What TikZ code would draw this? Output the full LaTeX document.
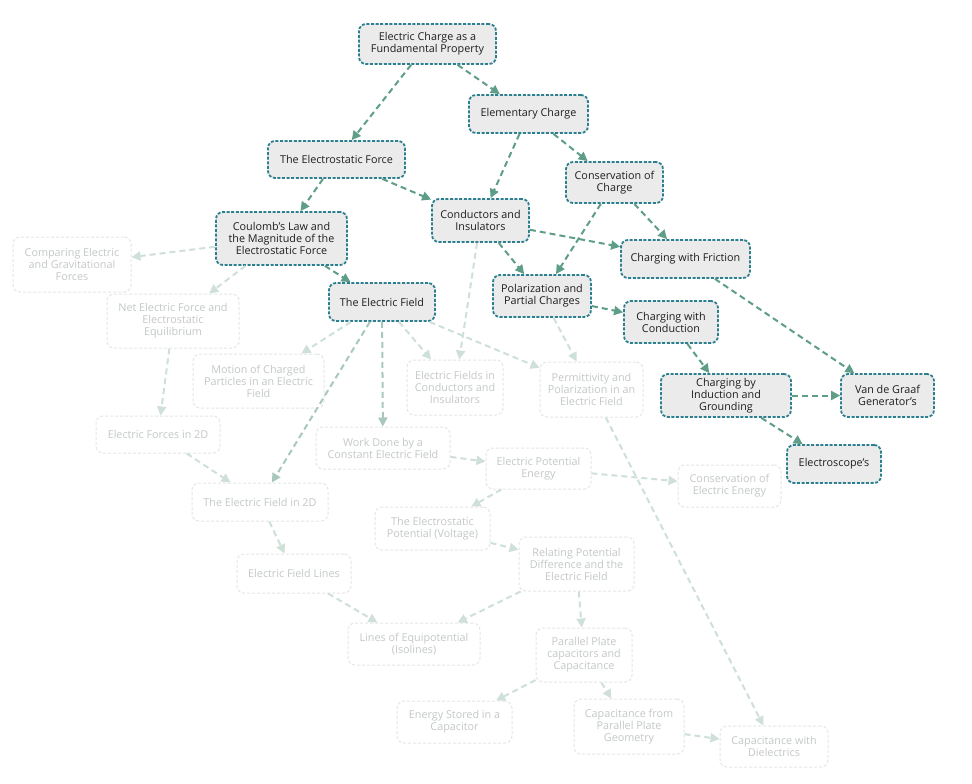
\documentclass[tikz,border=0pt]{standalone}
\usepackage{fontspec}
\setmainfont{Open Sans}
\usetikzlibrary{arrows.meta}
\definecolor{actborder}{HTML}{2C7F8E}
\definecolor{actfill}{HTML}{EBEBEB}
\definecolor{actarrow}{HTML}{5E9E88}
\definecolor{midarrow}{HTML}{A8C8BB}
\definecolor{fadearrow}{HTML}{CFE0D8}
\definecolor{fadeborder}{HTML}{E6E6E6}
\definecolor{fadetext}{HTML}{C4C8C8}
\definecolor{acttext}{HTML}{1E1E1E}
\tikzset{
  base/.style={rounded corners=7pt, align=center, inner sep=0pt, font=\fontsize{10.8}{12}\selectfont},
  act/.style={base, draw=actborder, fill=actfill, line width=1.8pt, dash pattern=on 3pt off 1.6pt, text=acttext},
  fade/.style={base, draw=fadeborder, fill=white, line width=1pt, dash pattern=on 3pt off 2pt, text=fadetext},
  aedge/.style={draw=actarrow, line width=2pt, dash pattern=on 6pt off 4pt, -{Triangle[length=9pt,width=9pt]}, shorten >=0pt},
  medge/.style={draw=midarrow, line width=2pt, dash pattern=on 6pt off 4pt, -{Triangle[length=9pt,width=9pt]}},
  fedge/.style={draw=fadearrow, line width=2pt, dash pattern=on 6pt off 4pt, -{Triangle[length=9pt,width=9pt]}},
}
\begin{document}
\begin{tikzpicture}[x=1pt,y=-1pt]
\useasboundingbox[fill=white] (0,0) rectangle (972,784);
% active nodes
\node[act, minimum width=137pt, minimum height=40pt] (ecfp) at (427.5,44) {Electric Charge as a\\Fundamental Property};
\node[act, minimum width=119pt, minimum height=38pt] (elem) at (528.5,114) {Elementary Charge};
\node[act, minimum width=137pt, minimum height=37pt] (esf) at (336.5,159.5) {The Electrostatic Force};
\node[act, minimum width=131pt, minimum height=53pt] (coul) at (281.5,238.5) {Coulomb's Law and\\the Magnitude of the\\Electrostatic Force};
\node[act, minimum width=106pt, minimum height=38pt] (ef) at (382,302) {The Electric Field};
\node[act, minimum width=97pt, minimum height=41pt] (cons) at (614.5,182.5) {Conservation of\\Charge};
\node[act, minimum width=97pt, minimum height=43pt] (cond) at (480.5,220.5) {Conductors and\\Insulators};
\node[act, minimum width=129pt, minimum height=38pt] (fric) at (685.5,259) {Charging with Friction};
\node[act, minimum width=98pt, minimum height=42pt] (pol) at (542,296) {Polarization and\\Partial Charges};
\node[act, minimum width=94pt, minimum height=42pt] (ccond) at (671,322) {Charging with\\Conduction};
\node[act, minimum width=130pt, minimum height=43pt] (ind) at (726,395.5) {Charging by\\Induction and\\Grounding};
\node[act, minimum width=93pt, minimum height=43pt] (vdg) at (887.5,395.5) {Van de Graaf\\Generator's};
\node[act, minimum width=94pt, minimum height=38pt] (escope) at (834,464) {Electroscope's};
% faded nodes
\node[fade, minimum width=118pt, minimum height=55pt] (comp) at (72,264.5) {Comparing Electric\\and Gravitational\\Forces};
\node[fade, minimum width=132pt, minimum height=54pt] (net) at (173,321) {Net Electric Force and\\Electrostatic\\Equilibrium};
\node[fade, minimum width=131pt, minimum height=54pt] (motion) at (258.5,381) {Motion of Charged\\Particles in an Electric\\Field};
\node[fade, minimum width=96pt, minimum height=55pt] (efci) at (455,387.5) {Electric Fields in\\Conductors and\\Insulators};
\node[fade, minimum width=103pt, minimum height=55pt] (perm) at (591.5,389.5) {Permittivity and\\Polarization in an\\Electric Field};
\node[fade, minimum width=124pt, minimum height=37pt] (ef2d) at (158,434.5) {Electric Forces in 2D};
\node[fade, minimum width=134pt, minimum height=42pt] (work) at (383,448) {Work Done by a\\Constant Electric Field};
\node[fade, minimum width=105pt, minimum height=41pt] (epe) at (538.5,468.5) {Electric Potential\\Energy};
\node[fade, minimum width=103pt, minimum height=42pt] (cee) at (729.5,486) {Conservation of\\Electric Energy};
\node[fade, minimum width=136pt, minimum height=38pt] (field2d) at (260,502) {The Electric Field in 2D};
\node[fade, minimum width=115pt, minimum height=43pt] (volt) at (432.5,528.5) {The Electrostatic\\Potential (Voltage)};
\node[fade, minimum width=114pt, minimum height=39pt] (lines) at (294,573.5) {Electric Field Lines};
\node[fade, minimum width=115pt, minimum height=54pt] (rel) at (576.5,564) {Relating Potential\\Difference and the\\Electric Field};
\node[fade, minimum width=132pt, minimum height=42pt] (equi) at (414,644) {Lines of Equipotential\\(Isolines)};
\node[fade, minimum width=96pt, minimum height=54pt] (ppc) at (584,655) {Parallel Plate\\capacitors and\\Capacitance};
\node[fade, minimum width=115pt, minimum height=42pt] (energy) at (454.5,722) {Energy Stored in a\\Capacitor};
\node[fade, minimum width=110pt, minimum height=55pt] (geom) at (629,726.5) {Capacitance from\\Parallel Plate\\Geometry};
\node[fade, minimum width=108pt, minimum height=41pt] (diel) at (774,746.5) {Capacitance with\\Dielectrics};
% faded edges
\draw[fedge] (coul) -- (comp);
\draw[fedge] (coul) -- (net);
\draw[fedge] (net) -- (ef2d);
\draw[fedge] (ef2d) -- (field2d);
\draw[fedge] (ef) -- (motion);
\draw[fedge] (ef) -- (efci);
\draw[fedge] (ef) -- (perm);
\draw[fedge] (cond) -- (efci);
\draw[fedge] (pol) -- (perm);
\draw[fedge] (perm) -- (diel);
\draw[fedge] (work) -- (epe);
\draw[fedge] (epe) -- (cee);
\draw[fedge] (epe) -- (volt);
\draw[fedge] (volt) -- (rel);
\draw[fedge] (rel) -- (equi);
\draw[fedge] (lines) -- (equi);
\draw[fedge] (field2d) -- (lines);
\draw[fedge] (rel) -- (ppc);
\draw[fedge] (ppc) -- (energy);
\draw[fedge] (ppc) -- (geom);
\draw[fedge] (geom) -- (diel);
% medium edges
\draw[medge] (ef) -- (field2d);
\draw[medge] (ef) -- (work);
% active edges
\draw[aedge] (ecfp) -- (esf);
\draw[aedge] (ecfp) -- (elem);
\draw[aedge] (elem) -- (cond);
\draw[aedge] (elem) -- (cons);
\draw[aedge] (esf) -- (coul);
\draw[aedge] (esf) -- (cond);
\draw[aedge] (coul) -- (ef);
\draw[aedge] (cons) -- (fric);
\draw[aedge] (cons) -- (pol);
\draw[aedge] (cond) -- (fric);
\draw[aedge] (cond) -- (pol);
\draw[aedge] (pol) -- (ccond);
\draw[aedge] (fric) -- (vdg);
\draw[aedge] (ccond) -- (ind);
\draw[aedge] (ind) -- (vdg);
\draw[aedge] (ind) -- (escope);
\end{tikzpicture}
\end{document}
